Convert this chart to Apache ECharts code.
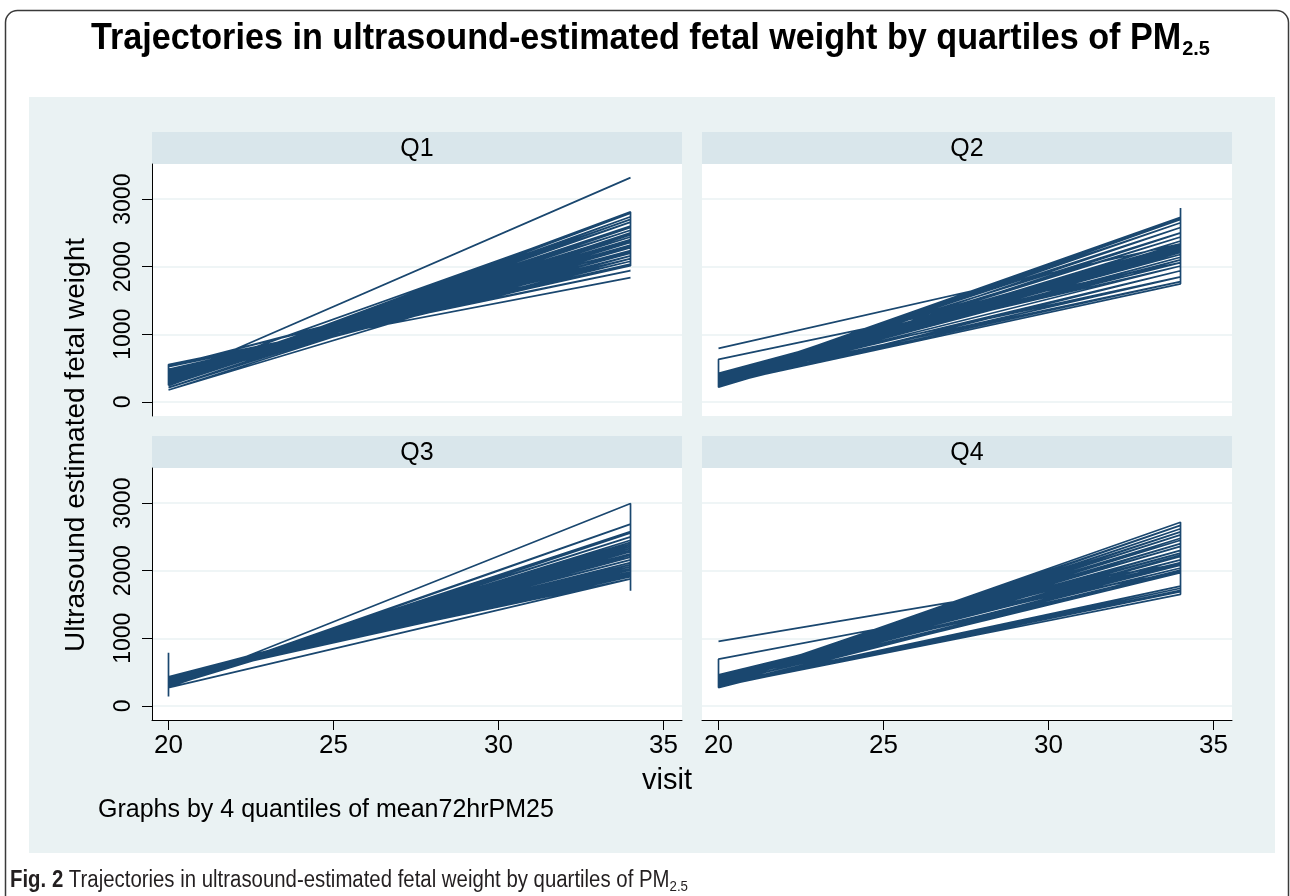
<!DOCTYPE html>
<html><head><meta charset="utf-8">
<script src="https://cdn.jsdelivr.net/npm/echarts@6/dist/echarts.min.js"></script>
<style>html,body{margin:0;padding:0;background:#fff;}#c{width:1290px;height:896px;}</style>
</head><body><div id="c"></div>
<script>
// ---------- data ----------
const panelNames = ['Q1', 'Q2', 'Q3', 'Q4'];
const xTicks = [20, 25, 30, 35];
const yTicks = [0, 1000, 2000, 3000];
const titleMain = 'Trajectories in ultrasound-estimated fetal weight by quartiles of PM';
const titleSub = '2.5';
const yTitle = 'Ultrasound estimated fetal weight';
const xTitle = 'visit';
const byNote = 'Graphs by 4 quantiles of mean72hrPM25';
const captionBold = 'Fig. 2';
const captionMain = ' Trajectories in ultrasound-estimated fetal weight by quartiles of PM';
const captionSub = '2.5';

// each panel: one connected path through the observations (visit, weight)
const q1Visit  = [34,20,34,20,34,20,34,20,34,20,34,20,34,20,34,20,34,20,34,20,34,20,34,20,34,20,34,20,34,20,34,20,34,20,34,20,34,20,34,34,20,34,20,34,20,34,20,34,20,20,34,20,34,20,34,20,34];
const q1Weight = [3318,350,2790,240,2740,300,2700,265,2660,330,2600,285,2540,360,2490,310,2440,380,2400,295,2360,400,2320,340,2280,420,2240,370,2200,440,2160,320,2120,460,2080,390,2040,480,2015,2811,270,2580,350,2470,300,2300,520,1941,551,245,2500,210,2380,175,2230,530,1838];

const q2Visit  = [20,34,20,34,20,34,20,34,20,34,20,34,20,34,20,34,20,34,20,34,20,34,20,34,20,34,20,34,20,34,20,34,20,20,34,20,34,20,34,20,34,20,34,20,34,20,34,20,34,20,34,34];
const q2Weight = [790,2340,300,2730,320,2700,280,2650,340,2580,260,2500,360,2440,300,2380,250,2330,380,2290,310,2250,270,2210,400,2180,330,2140,290,2100,350,2060,628,215,2260,420,2010,300,1940,240,2230,370,1850,280,1780,330,2280,230,2310,260,1746,2869];

const q3Visit  = [20,20,20,34,20,34,20,34,20,34,20,34,20,34,20,34,20,34,20,34,20,34,20,34,20,34,20,34,20,34,20,34,20,34,20,34,20,34,20,34,20,34,20,34,20,34,20,34,20,34,20,34,20,34,34];
const q3Weight = [787,137,330,2580,300,2690,280,2560,320,2500,340,2450,310,2420,360,2390,290,2360,380,2330,330,2300,400,2280,350,2250,420,2230,370,2200,430,2160,390,2120,410,2090,360,2060,425,2030,380,2010,430,1985,400,1960,420,1935,390,1910,430,1880,270,2994,1703];

const q4Visit  = [20,34,20,34,34,20,34,20,34,20,34,20,34,20,34,20,34,20,34,20,34,20,34,20,34,20,34,20,34,20,34,20,34,20,34,20,34,20,34,20,34,20,34,20,34,20,20,34,20,34,20,34];
const q4Weight = [955,2100,320,2718,1650,290,1690,300,1710,285,1740,310,1772,300,2670,340,2620,310,2575,360,2530,330,2480,380,2450,350,2400,400,2360,370,2300,420,2260,340,2210,440,2160,390,2120,458,2080,360,2040,410,1984,690,270,2010,330,1970,300,2230];

const panelVisits = [q1Visit, q2Visit, q3Visit, q4Visit];
const panelWeights = [q1Weight, q2Weight, q3Weight, q4Weight];

// ---------- layout / style ----------
const FONT = "'Liberation Sans', Arial, Helvetica, sans-serif";
const LINE = '#1A476F';
const BG = '#EAF2F3';
const STRIP = '#D9E6EB';
const gridPos = [
  {left: 152, top: 164}, {left: 702, top: 164},
  {left: 152, top: 468}, {left: 702, top: 468}
];
const GW = 530, GH = 252, STRIP_H = 32;

const mctx = document.createElement('canvas').getContext('2d');
function measure(t, font) { mctx.font = font; return mctx.measureText(t).width; }

const chart = echarts.init(document.getElementById('c'), null, {renderer: 'canvas'});

const grids = [], xAxes = [], yAxes = [], series = [];
gridPos.forEach((g, i) => {
  const left = i % 2 === 0, bottom = i >= 2;
  grids.push({left: g.left, top: g.top, width: GW, height: GH, show: true,
    backgroundColor: '#fff', borderWidth: 0, containLabel: false});
  xAxes.push({gridIndex: i, type: 'value', min: 19.5, max: 35.56,
    axisLine: {show: bottom, onZero: false, lineStyle: {color: '#000', width: 1}},
    axisTick: {show: bottom, length: 10, customValues: xTicks, lineStyle: {color: '#000', width: 1}},
    axisLabel: {show: bottom, customValues: xTicks, margin: 13, fontSize: 26, color: '#000', fontFamily: FONT,
      formatter: v => String(v)},
    splitLine: {show: false}});
  yAxes.push({gridIndex: i, type: 'value', min: -210, max: 3520,
    axisLine: {show: left, onZero: false, lineStyle: {color: '#000', width: 1}},
    axisTick: {show: left, length: 10, customValues: yTicks, lineStyle: {color: '#000', width: 1}},
    axisLabel: {show: left, customValues: yTicks, rotate: 90, margin: 17, fontSize: 23, color: '#000', fontFamily: FONT,
      formatter: v => String(v)},
    splitLine: {show: true, lineStyle: {color: BG, width: 1.5}}});
  const data = panelVisits[i].map((v, k) => [v, panelWeights[i][k]]);
  series.push({type: 'line', xAxisIndex: i, yAxisIndex: i, data: data,
    showSymbol: false, symbol: 'none', silent: true, animation: false,
    lineStyle: {color: LINE, width: 1.7}, z: 3});
});

// graphics
const graphics = [];
graphics.push({type: 'rect', z: -100, shape: {x: 5.5, y: 10.5, width: 1283, height: 900, r: 12},
  style: {fill: '#fff', stroke: '#3a3a3a', lineWidth: 1.5}, silent: true});
graphics.push({type: 'rect', z: -90, shape: {x: 29, y: 97, width: 1246, height: 756},
  style: {fill: BG}, silent: true});
gridPos.forEach((g, i) => {
  graphics.push({type: 'rect', z: -80, shape: {x: g.left, y: g.top - STRIP_H, width: GW, height: STRIP_H},
    style: {fill: STRIP}, silent: true});
  graphics.push({type: 'text', z: 10, x: g.left + GW / 2, y: g.top - STRIP_H / 2 + 1,
    style: {text: panelNames[i], font: '25px ' + FONT, fill: '#000', align: 'center', verticalAlign: 'middle'}, silent: true});
});

// title with subscript
const tFontMain = 'bold 36px ' + FONT, tFontSub = 'bold 21px ' + FONT;
const tw1 = measure(titleMain, tFontMain), tw2 = measure(titleSub, tFontSub);
const tsx = 1118 / (tw1 + tw2);
graphics.push({type: 'group', x: 91, y: 0, scaleX: tsx, scaleY: 1, children: [
  {type: 'text', x: 0, y: 39.5, style: {text: titleMain, font: tFontMain, fill: '#000', align: 'left', verticalAlign: 'middle'}},
  {type: 'text', x: tw1 + 1, y: 49, style: {text: titleSub, font: tFontSub, fill: '#000', align: 'left', verticalAlign: 'middle'}}
]});

// axis titles & note
graphics.push({type: 'text', x: 76, y: 445, rotation: Math.PI / 2,
  style: {text: yTitle, font: '28px ' + FONT, fill: '#000', align: 'center', verticalAlign: 'middle'}, silent: true});
graphics.push({type: 'text', x: 667, y: 781,
  style: {text: xTitle, font: '29px ' + FONT, fill: '#000', align: 'center', verticalAlign: 'middle'}, silent: true});
graphics.push({type: 'text', x: 98, y: 810,
  style: {text: byNote, font: '25px ' + FONT, fill: '#000', align: 'left', verticalAlign: 'middle'}, silent: true});

// caption
const cFontB = 'bold 23px ' + FONT, cFont = '23px ' + FONT, cFontS = '15px ' + FONT;
const cw1 = measure(captionBold, cFontB), cw2 = measure(captionMain, cFont), cw3 = measure(captionSub, cFontS);
const csx = 678 / (cw1 + cw2 + cw3);
graphics.push({type: 'group', x: 10, y: 0, scaleX: csx, scaleY: 1, children: [
  {type: 'text', x: 0, y: 881, style: {text: captionBold, font: cFontB, fill: '#231F20', align: 'left', verticalAlign: 'middle'}},
  {type: 'text', x: cw1, y: 881, style: {text: captionMain, font: cFont, fill: '#231F20', align: 'left', verticalAlign: 'middle'}},
  {type: 'text', x: cw1 + cw2, y: 887, style: {text: captionSub, font: cFontS, fill: '#231F20', align: 'left', verticalAlign: 'middle'}}
]});

chart.setOption({
  animation: false,
  backgroundColor: '#fff',
  grid: grids, xAxis: xAxes, yAxis: yAxes, series: series,
  graphic: {elements: graphics}
});
</script></body></html>
